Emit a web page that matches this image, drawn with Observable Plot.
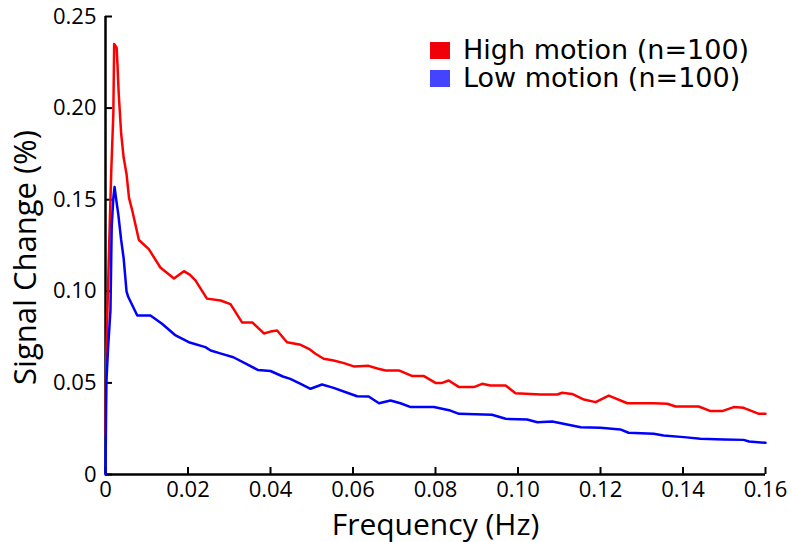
<!DOCTYPE html>
<html>
<head>
<meta charset="utf-8">
<script src="https://cdn.jsdelivr.net/npm/d3@7"></script>
<script src="https://cdn.jsdelivr.net/npm/@observablehq/plot@0.6"></script>
<style>
  html, body { margin: 0; padding: 0; background: #fff; }
  #wrap { position: relative; width: 791px; height: 542px; }
  #legend { position: absolute; left: 430px; top: 36px; font-family: "DejaVu Sans", sans-serif; font-size: 27px; color: #000; }
  #legend .row { display: flex; align-items: center; height: 28px; line-height: 28px; white-space: nowrap; }
  #legend .sw { width: 20px; height: 17px; margin-right: 13px; flex: none; }
</style>
</head>
<body>
<div id="wrap"></div>
<script>
// High motion (n=100): frequency (Hz) and signal change (%)
const highFreq = [0, 0.0002, 0.0008, 0.0014, 0.0019, 0.0021, 0.0027, 0.0029, 0.0032, 0.0038, 0.0044, 0.0051, 0.0057, 0.0065, 0.0081, 0.0105, 0.0133, 0.0166, 0.019, 0.0205, 0.0218, 0.0246, 0.0279, 0.0303, 0.0331, 0.0356, 0.0384, 0.0400, 0.0416, 0.0440, 0.0473, 0.0493, 0.0509, 0.0529, 0.0553, 0.0578, 0.0602, 0.0638, 0.0659, 0.0679, 0.0711, 0.0727, 0.0744, 0.0772, 0.0800, 0.0816, 0.0832, 0.0857, 0.0893, 0.0913, 0.0933, 0.0970, 0.0994, 0.1055, 0.1095, 0.1107, 0.1131, 0.1160, 0.1188, 0.1220, 0.1265, 0.1329, 0.1362, 0.1382, 0.1438, 0.1467, 0.1495, 0.1523, 0.1547, 0.1584, 0.16];
const highVal = [0.022, 0.066, 0.118, 0.166, 0.197, 0.235, 0.233, 0.224, 0.208, 0.186, 0.173, 0.164, 0.151, 0.144, 0.128, 0.123, 0.113, 0.107, 0.111, 0.109, 0.106, 0.096, 0.095, 0.093, 0.083, 0.083, 0.077, 0.078, 0.0786, 0.0722, 0.0708, 0.0686, 0.0659, 0.0632, 0.0622, 0.0608, 0.059, 0.0593, 0.0579, 0.0568, 0.0568, 0.0553, 0.0537, 0.0537, 0.050, 0.050, 0.0513, 0.0477, 0.0477, 0.0495, 0.0486, 0.0486, 0.0444, 0.0437, 0.0437, 0.0446, 0.044, 0.0409, 0.0395, 0.0431, 0.0389, 0.0389, 0.0386, 0.0371, 0.0371, 0.0346, 0.0346, 0.0368, 0.0364, 0.0331, 0.0331];

// Low motion (n=100)
const lowFreq = [0, 0.0002, 0.0006, 0.0012, 0.0015, 0.0019, 0.0022, 0.0026, 0.0031, 0.0038, 0.0044, 0.0051, 0.0055, 0.0077, 0.0109, 0.0137, 0.0170, 0.0202, 0.0242, 0.0255, 0.028, 0.031, 0.034, 0.037, 0.040, 0.043, 0.0448, 0.0473, 0.0497, 0.0525, 0.0553, 0.0586, 0.0610, 0.0638, 0.0663, 0.0691, 0.0715, 0.0740, 0.0796, 0.0836, 0.0857, 0.0937, 0.0970, 0.1022, 0.1047, 0.1083, 0.1119, 0.1152, 0.1200, 0.1248, 0.1268, 0.1329, 0.1353, 0.1402, 0.1442, 0.1499, 0.1547, 0.1560, 0.16];
const lowVal = [0.0, 0.05, 0.068, 0.0895, 0.135, 0.151, 0.157, 0.150, 0.142, 0.128, 0.118, 0.100, 0.097, 0.0868, 0.0868, 0.0823, 0.0759, 0.0722, 0.0695, 0.0677, 0.066, 0.064, 0.0605, 0.057, 0.0565, 0.0535, 0.0522, 0.0495, 0.0468, 0.0491, 0.0473, 0.0446, 0.0427, 0.0426, 0.0389, 0.0404, 0.0389, 0.0368, 0.0368, 0.0349, 0.0331, 0.0326, 0.0304, 0.030, 0.0285, 0.0289, 0.0273, 0.0258, 0.0255, 0.0246, 0.0228, 0.0222, 0.0213, 0.0204, 0.0195, 0.0191, 0.0189, 0.018, 0.0173];

const xTicks = [0, 0.02, 0.04, 0.06, 0.08, 0.10, 0.12, 0.14, 0.16];
const xTickLabels = ["0", "0.02", "0.04", "0.06", "0.08", "0.10", "0.12", "0.14", "0.16"];
const yTicks = [0, 0.05, 0.10, 0.15, 0.20, 0.25];
const yTickLabels = ["0", "0.05", "0.10", "0.15", "0.20", "0.25"];

const seriesNames = ["High motion (n=100)", "Low motion (n=100)"];
const lineColors = ["#ff0000", "#0000ff"];
const swatchColors = ["#f00008", "#4444ff"];

const high = highFreq.map((f, i) => ({f, v: highVal[i]}));
const low = lowFreq.map((f, i) => ({f, v: lowVal[i]}));

const W = 791, H = 542, mL = 105, mR = 26, mT = 16, mB = 68;
const plotW = W - mL - mR, plotH = H - mT - mB;
const tickFont = "'Open Sans', 'DejaVu Sans', sans-serif";

const chart = Plot.plot({
  width: W, height: H,
  marginLeft: mL, marginRight: mR, marginTop: mT, marginBottom: mB,
  style: {fontFamily: tickFont, fontSize: "22px", color: "#000", background: "#fff", overflow: "visible"},
  x: {domain: [0, 0.16]},
  y: {domain: [0, 0.25]},
  marks: [
    Plot.axisX(xTicks, {tickSize: 0, tickPadding: 7, tickFormat: (d, i) => xTickLabels[i], label: null, fontSize: 22}),
    Plot.axisY(yTicks, {tickSize: 0, tickPadding: 9, tickFormat: (d, i) => yTickLabels[i], label: null, fontSize: 22}),
    Plot.tickY(yTicks, {y: d => d, insetRight: plotW - 7, stroke: "#000", strokeWidth: 2}),
    Plot.tickX(xTicks, {x: d => d, insetTop: plotH - 7, stroke: "#000", strokeWidth: 2}),
    Plot.ruleX([0], {stroke: "#000", strokeWidth: 2.5}),
    Plot.ruleY([0], {stroke: "#000", strokeWidth: 2.5}),
    Plot.line(high, {x: "f", y: "v", stroke: lineColors[0], strokeWidth: 2.5, strokeLinejoin: "round"}),
    Plot.line(low, {x: "f", y: "v", stroke: lineColors[1], strokeWidth: 2.5, strokeLinejoin: "round"}),
    Plot.text(["Frequency (Hz)"], {frameAnchor: "bottom", text: d => d, dy: 60, fontSize: 30, fill: "#000", textAnchor: "middle", lineAnchor: "bottom"}),
    Plot.text(["Signal Change (%)"], {frameAnchor: "left", text: d => d, dx: -79, dy: 12, rotate: -90, fontSize: 31, fill: "#000", textAnchor: "middle", lineAnchor: "middle"})
  ]
});

const wrap = document.getElementById("wrap");
wrap.appendChild(chart);

const legend = document.createElement("div");
legend.id = "legend";
seriesNames.forEach((name, i) => {
  const row = document.createElement("div");
  row.className = "row";
  const sw = document.createElement("span");
  sw.className = "sw";
  sw.style.background = swatchColors[i];
  const label = document.createElement("span");
  label.textContent = name;
  row.appendChild(sw);
  row.appendChild(label);
  legend.appendChild(row);
});
wrap.appendChild(legend);
</script>
</body>
</html>
